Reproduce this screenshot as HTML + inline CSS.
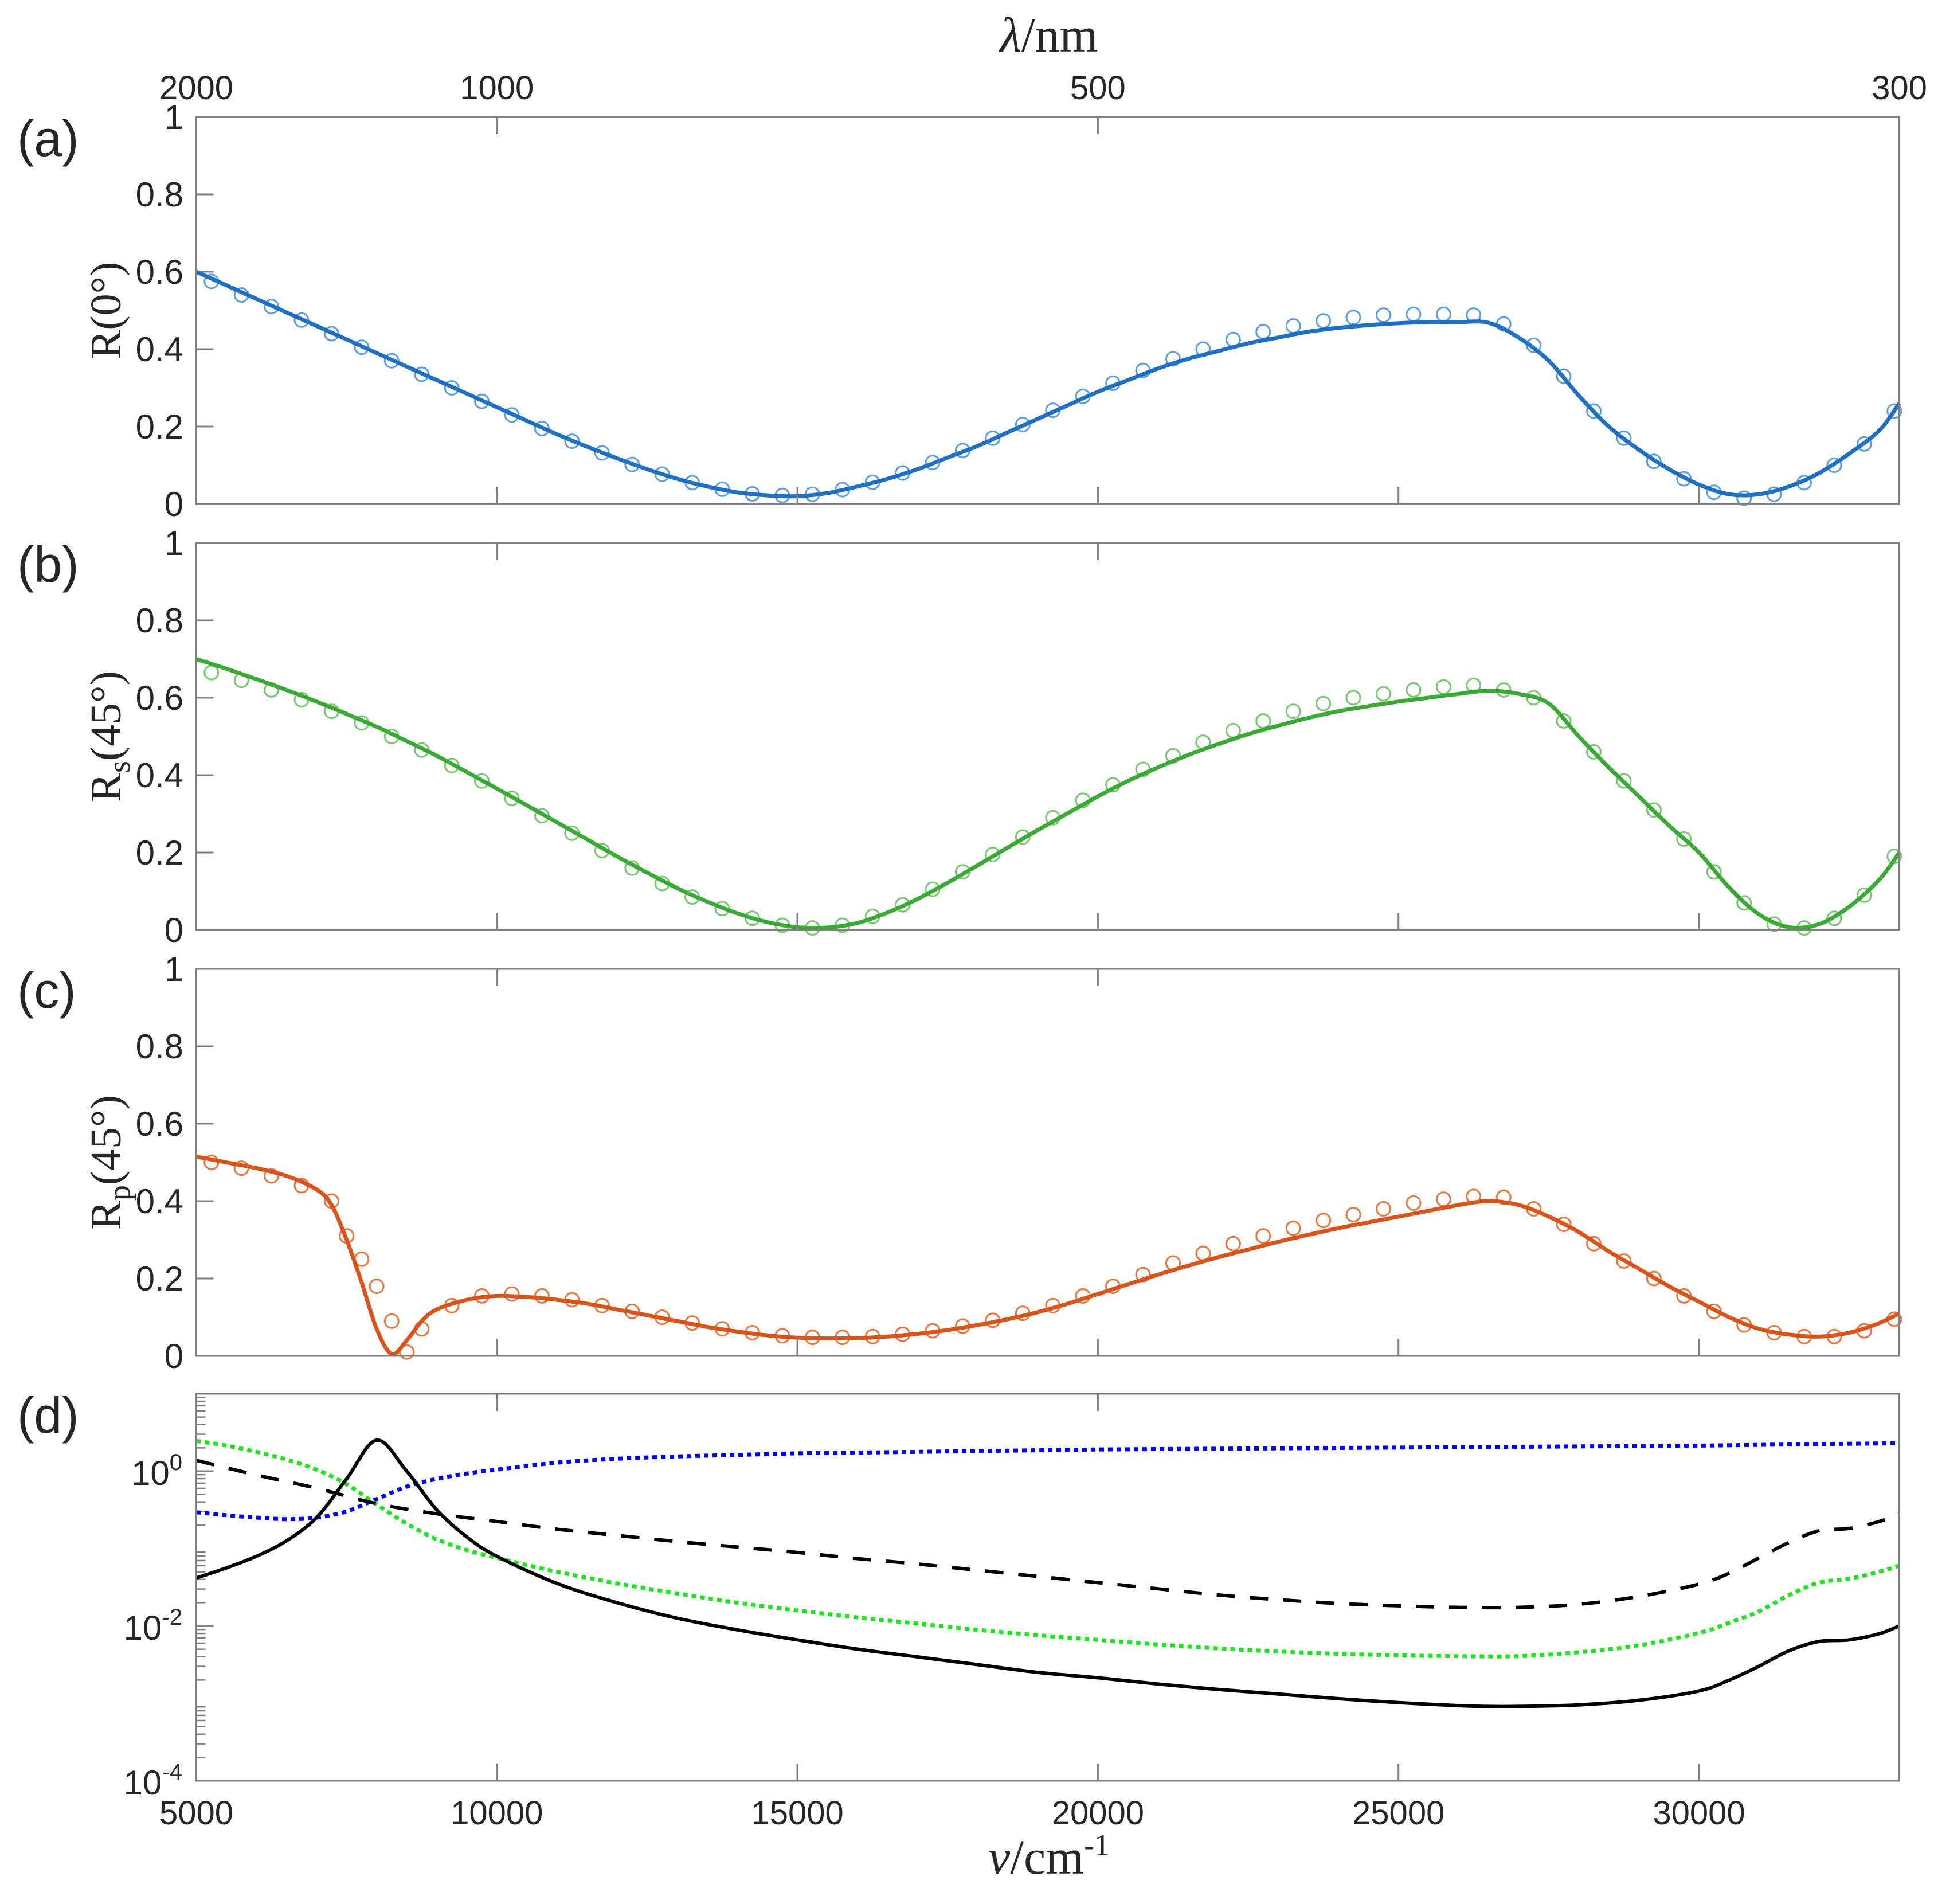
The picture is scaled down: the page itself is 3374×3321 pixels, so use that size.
<!DOCTYPE html>
<html><head><meta charset="utf-8">
<style>
html,body{margin:0;padding:0;background:#fff;}
svg{display:block;}
text{font-family:"Liberation Sans",Arial,sans-serif;fill:#262626;}
.serif{font-family:"Liberation Serif","DejaVu Serif",serif;}
</style></head>
<body>
<svg id="chart" width="3374" height="3321" viewBox="0 0 3374 3321" xmlns="http://www.w3.org/2000/svg">
<rect x="0" y="0" width="3374" height="3321" fill="#fff"/>
<g id="layer"></g>
</svg>
<script>
// ---------- data ----------
const gridX = [5000,5500,6000,6500,7000,7500,8000,8500,9000,9500,10000,10500,11000,11500,12000,12500,13000,13500,14000,14500,15000,15500,16000,16500,17000,17500,18000,18500,19000,19500,20000,20500,21000,21500,22000,22500,23000,23500,24000,24500,25000,25500,26000,26500,27000,27500,28000,28500,29000,29500,30000,30500,31000,31500,32000,32500,33000,33333];
const markX = [5250,5750,6250,6750,7250,7750,8250,8750,9250,9750,10250,10750,11250,11750,12250,12750,13250,13750,14250,14750,15250,15750,16250,16750,17250,17750,18250,18750,19250,19750,20250,20750,21250,21750,22250,22750,23250,23750,24250,24750,25250,25750,26250,26750,27250,27750,28250,28750,29250,29750,30250,30750,31250,31750,32250,32750,33250];

const r0Fit = [.60,.565,.53,.495,.46,.425,.39,.355,.32,.285,.25,.215,.18,.148,.118,.09,.065,.045,.03,.022,.02,.028,.045,.065,.09,.12,.15,.185,.22,.255,.29,.32,.35,.375,.395,.415,.43,.445,.455,.462,.467,.47,.47,.468,.43,.37,.28,.20,.14,.09,.05,.025,.025,.045,.08,.13,.19,.26];
const r0Meas = [.575,.54,.51,.475,.44,.405,.37,.335,.30,.265,.23,.195,.162,.132,.102,.077,.055,.038,.026,.022,.025,.037,.056,.08,.107,.138,.17,.205,.242,.278,.312,.345,.375,.40,.425,.445,.46,.473,.482,.488,.49,.49,.488,.465,.41,.33,.24,.17,.11,.065,.03,.015,.025,.055,.10,.155,.24];

const rsFit = [.70,.675,.648,.62,.59,.558,.525,.488,.45,.408,.365,.322,.278,.234,.19,.148,.108,.073,.043,.02,.007,.006,.018,.045,.08,.122,.167,.213,.258,.302,.345,.385,.42,.452,.48,.506,.528,.548,.565,.578,.59,.60,.61,.618,.61,.585,.50,.42,.345,.27,.20,.11,.04,.007,.015,.06,.13,.20];
const rsMeas = [.665,.645,.62,.595,.565,.535,.50,.465,.425,.385,.34,.295,.25,.205,.16,.12,.085,.055,.03,.012,.005,.012,.035,.065,.105,.15,.195,.24,.29,.335,.375,.415,.45,.485,.515,.54,.565,.585,.60,.61,.62,.628,.632,.62,.60,.54,.46,.385,.31,.235,.15,.07,.015,.005,.03,.09,.19];

const rpX = [5000,5500,6000,6500,7000,7250,7500,7750,8000,8250,8500,8750,9000,9500,10000,10500,11000,11500,12000,12500,13000,13500,14000,14500,15000,15500,16000,16500,17000,17500,18000,18500,19000,19500,20000,20500,21000,21500,22000,22500,23000,23500,24000,24500,25000,25500,26000,26500,27000,27500,28000,28500,29000,29500,30000,30500,31000,31500,32000,32500,33000,33333];
const rpFit = [.515,.50,.485,.465,.43,.39,.30,.19,.07,.005,.04,.09,.12,.145,.155,.152,.145,.135,.12,.105,.09,.075,.063,.053,.047,.045,.046,.05,.057,.067,.08,.095,.113,.135,.16,.185,.21,.233,.255,.275,.295,.313,.33,.345,.36,.375,.39,.40,.39,.36,.32,.27,.225,.18,.14,.10,.07,.055,.05,.06,.085,.11];
const rpMarkX = [5250,5750,6250,6750,7250,7500,7750,8000,8250,8500,8750,9250,9750,10250,10750,11250,11750,12250,12750,13250,13750,14250,14750,15250,15750,16250,16750,17250,17750,18250,18750,19250,19750,20250,20750,21250,21750,22250,22750,23250,23750,24250,24750,25250,25750,26250,26750,27250,27750,28250,28750,29250,29750,30250,30750,31250,31750,32250,32750,33250];
const rpMeas = [.50,.485,.465,.44,.40,.31,.25,.18,.09,.01,.07,.13,.155,.16,.155,.145,.13,.115,.10,.085,.07,.06,.052,.048,.048,.05,.056,.065,.077,.092,.11,.13,.155,.18,.21,.24,.265,.29,.31,.33,.35,.365,.38,.395,.405,.412,.41,.38,.34,.29,.245,.20,.155,.115,.08,.06,.05,.05,.065,.095];

// panel (d): log10 values
const dSolidX = [5000,5500,6000,6500,7000,7500,8000,8500,9000,9500,10000,11000,12000,13000,14000,15000,16000,17000,18000,19000,20000,21000,22000,23000,24000,25000,26000,26500,27000,28000,29000,30000,30500,31000,31500,32000,32500,33000,33333];
const dSolidLog = [-1.38,-1.25,-1.1,-0.9,-0.6,-0.1,0.4,0.0,-0.5,-0.85,-1.1,-1.45,-1.7,-1.9,-2.05,-2.18,-2.3,-2.4,-2.5,-2.6,-2.67,-2.75,-2.82,-2.88,-2.94,-2.99,-3.03,-3.04,-3.04,-3.02,-2.96,-2.84,-2.7,-2.52,-2.32,-2.2,-2.18,-2.1,-2.0];
const dDashX = [5000,6000,7000,8000,9000,10000,11000,12000,13000,14000,15000,16000,17000,18000,19000,20000,21000,22000,23000,24000,25000,26000,27000,28000,29000,30000,30500,31000,31500,32000,32500,33000,33333];
const dDashLog = [.14,-.05,-.22,-.42,-.55,-.65,-.75,-.83,-.91,-.98,-1.05,-1.13,-1.2,-1.28,-1.36,-1.44,-1.52,-1.6,-1.66,-1.71,-1.74,-1.76,-1.76,-1.72,-1.62,-1.46,-1.32,-1.12,-.92,-.77,-.74,-.65,-.55];
const dGreenX = [5000,5500,6000,6500,7000,7500,8000,8500,9000,9500,10000,11000,12000,13000,14000,15000,16000,17000,18000,19000,20000,21000,22000,23000,24000,25000,26000,27000,28000,29000,30000,30500,31000,31500,32000,32500,33000,33333];
const dGreenLog = [.39,.33,.25,.15,.02,-.17,-.43,-.68,-.88,-1.02,-1.12,-1.3,-1.45,-1.58,-1.7,-1.8,-1.89,-1.97,-2.05,-2.12,-2.18,-2.24,-2.29,-2.33,-2.36,-2.38,-2.39,-2.39,-2.34,-2.25,-2.09,-1.96,-1.81,-1.6,-1.44,-1.39,-1.3,-1.22];
const dBlueX = [5000,5500,6000,6500,7000,7500,8000,8500,9000,9500,10000,11000,12000,13000,14000,15000,16000,17000,18000,19000,20000,22000,24000,26000,28000,30000,32000,33333];
const dBlueLog = [-.53,-.57,-.6,-.62,-.6,-.52,-.36,-.2,-.1,-.03,.02,.11,.16,.19,.21,.23,.24,.25,.26,.27,.28,.29,.30,.31,.32,.33,.35,.36];

const bottomTicks = [5000,10000,15000,20000,25000,30000];
const bottomTickLabels = ["5000","10000","15000","20000","25000","30000"];
const topTicks = [5000,10000,20000,33333];
const topTickLabels = ["2000","1000","500","300"];
const linTicks = [0,0.2,0.4,0.6,0.8,1];
const linTickLabels = ["0","0.2","0.4","0.6","0.8","1"];
const logMajor = [-4,-2,0];
const logMajorLabels = ["-4","-2","0"];

// ---------- layout ----------
const NS = "http://www.w3.org/2000/svg";
const layer = document.getElementById('layer');
const X0 = 342.5, XMIN = 5000, XMAX = 33333, X1 = 3313.5;
const xs = v => X0 + (v - XMIN) * (X1 - X0) / (XMAX - XMIN);
const PH = 675;
const panelTops = [204, 947, 1690, 2431];
const AX = '#808080';

function mk(tag, attrs, parent) {
  const e = document.createElementNS(NS, tag);
  for (const k in attrs) e.setAttribute(k, attrs[k]);
  (parent || layer).appendChild(e);
  return e;
}
function smoothPath(pts) {
  let d = 'M' + pts[0][0].toFixed(1) + ' ' + pts[0][1].toFixed(1);
  for (let i = 0; i < pts.length - 1; i++) {
    const p0 = pts[Math.max(0, i - 1)], p1 = pts[i], p2 = pts[i + 1], p3 = pts[Math.min(pts.length - 1, i + 2)];
    const c1x = p1[0] + (p2[0] - p0[0]) / 6, c1y = p1[1] + (p2[1] - p0[1]) / 6;
    const c2x = p2[0] - (p3[0] - p1[0]) / 6, c2y = p2[1] - (p3[1] - p1[1]) / 6;
    d += ' C' + c1x.toFixed(1) + ' ' + c1y.toFixed(1) + ' ' + c2x.toFixed(1) + ' ' + c2y.toFixed(1) + ' ' + p2[0].toFixed(1) + ' ' + p2[1].toFixed(1);
  }
  return d;
}
function txt(str, x, y, size, anchor, parent, cls) {
  const t = mk('text', {x: x, y: y, 'font-size': size, 'text-anchor': anchor || 'middle'}, parent);
  if (cls) t.setAttribute('class', cls);
  t.textContent = str;
  return t;
}

function frame(pi, g) {
  const top = panelTops[pi], bot = top + PH;
  bottomTicks.forEach(v => {
    const l = mk('line', {x1: xs(v), x2: xs(v), y1: bot, y2: bot - 30, stroke: AX, 'stroke-width': 3}, g);
    
    
  });
  [10000, 20000].forEach(v => {
    const l = mk('line', {x1: xs(v), x2: xs(v), y1: top, y2: top + 30, stroke: AX, 'stroke-width': 3}, g);
    
    
  });
  const r = mk('rect', {x: X0, y: top, width: X1 - X0, height: PH, fill: 'none', stroke: AX, 'stroke-width': 3}, g);
  
  
}

function linPanel(pi, label, fitX, fit, measX, meas, lineCol, markCol, titleParts) {
  const top = panelTops[pi], bot = top + PH;
  const ys = v => bot - v * PH;
  const g = mk('g', {});
  
  
  linTicks.forEach((v, i) => {
    const l = mk('line', {x1: X0, x2: X0 + 30, y1: ys(v), y2: ys(v), stroke: AX, 'stroke-width': 3}, g);
    
    
    const t = txt(linTickLabels[i], 320, ys(v) + 21, 60, 'end', g);
    
    
  });
  measX.forEach((xv, i) => {
    const c = mk('circle', {cx: xs(xv), cy: ys(meas[i]), r: 12, fill: 'none', stroke: markCol, 'stroke-width': 3}, g);
    
    
  });
  const pts = fitX.map((xv, i) => [xs(xv), ys(fit[i])]);
  const p = mk('path', {d: smoothPath(pts), fill: 'none', stroke: lineCol, 'stroke-width': 7, 'stroke-linejoin': 'round'}, g);
  
  
  frame(pi, g);
  const pl = txt('(' + label + ')', 30, top + 68, 88, 'start', g);
  
  
  const cy = top + PH / 2;
  const yt = mk('text', {x: 0, y: 0, 'font-size': 76, 'text-anchor': 'middle', transform: 'translate(210 ' + cy + ') rotate(-90)', class: 'serif'}, g);
  
  
  const s1 = mk('tspan', {}, yt); s1.textContent = 'R';
  if (titleParts.sub) {
    const s2 = mk('tspan', {'font-size': 54, dy: 16}, yt); s2.textContent = titleParts.sub;
    const s3 = mk('tspan', {dy: -16}, yt); s3.textContent = titleParts.rest;
  } else {
    const s3 = mk('tspan', {}, yt); s3.textContent = titleParts.rest;
  }
}

linPanel(0, 'a', gridX, r0Fit, markX, r0Meas, '#1f6fc4', '#5d9ee0', {rest: '(0°)'});
linPanel(1, 'b', gridX, rsFit, markX, rsMeas, '#3aa935', '#78c870', {sub: 's', rest: '(45°)'});
linPanel(2, 'c', rpX, rpFit, rpMarkX, rpMeas, '#d9541a', '#e8773f', {sub: 'p', rest: '(45°)'});

// ---------- panel d ----------
(function () {
  const top = panelTops[3], bot = top + PH;
  const LMIN = -4, LMAX = 1;
  const ys = lv => bot - (lv - LMIN) / (LMAX - LMIN) * PH;
  const g = mk('g', {});
  
  
  for (let dcd = LMIN; dcd < LMAX; dcd++) {
    for (let m = 2; m <= 9; m++) {
      const y = ys(dcd + Math.log10(m));
      const l = mk('line', {x1: X0, x2: X0 + 16, y1: y, y2: y, stroke: AX, 'stroke-width': 2.5}, g);
      
      
    }
  }
  logMajor.forEach((lv, i) => {
    const l = mk('line', {x1: X0, x2: X0 + 30, y1: ys(lv), y2: ys(lv), stroke: AX, 'stroke-width': 3}, g);
    
    
    const t = mk('text', {x: 318, y: ys(lv) + 24, 'font-size': 60, 'text-anchor': 'end'}, g);
    
    
    const a = mk('tspan', {}, t); a.textContent = '10';
    const b = mk('tspan', {'font-size': 40, dy: -26}, t); b.textContent = logMajorLabels[i];
  });
  const series = [
    {x: dBlueX, v: dBlueLog, col: '#0000ff', dash: '8 7', w: 7, name: 'blue-dotted-line'},
    {x: dGreenX, v: dGreenLog, col: '#1ee61e', dash: '8 7', w: 7, name: 'green-dotted-line'},
    {x: dDashX, v: dDashLog, col: '#000', dash: '32 26', w: 6, name: 'black-dashed-line'},
    {x: dSolidX, v: dSolidLog, col: '#000', dash: 'none', w: 6, name: 'black-solid-line'}
  ];
  series.forEach(s => {
    const pts = s.x.map((xv, i) => [xs(xv), ys(s.v[i])]);
    const p = mk('path', {d: smoothPath(pts), fill: 'none', stroke: s.col, 'stroke-width': s.w, 'stroke-dasharray': s.dash}, g);
    
    
  });
  frame(3, g);
  const pl = txt('(d)', 30, top + 68, 88, 'start', g);
  
  
})();

// ---------- x labels ----------
bottomTicks.forEach((v, i) => {
  const t = txt(bottomTickLabels[i], xs(v), 3182, 58, 'middle');
  
  
});
topTicks.forEach((v, i) => {
  const t = txt(topTickLabels[i], xs(v), 173, 58, 'middle');
  
  
});
(function () {
  const t = mk('text', {x: 1830, y: 90, 'font-size': 86, 'text-anchor': 'middle', class: 'serif'});
  
  
  const a = mk('tspan', {'font-style': 'italic'}, t); a.textContent = 'λ';
  const b = mk('tspan', {}, t); b.textContent = '/nm';
  const t2 = mk('text', {x: 1830, y: 3268, 'font-size': 86, 'text-anchor': 'middle', class: 'serif'});
  
  
  const c = mk('tspan', {'font-style': 'italic'}, t2); c.textContent = 'ν';
  const d = mk('tspan', {}, t2); d.textContent = '/cm';
  const e = mk('tspan', {'font-size': 54, dy: -32}, t2); e.textContent = '-1';
})();
</script>
</body></html>
